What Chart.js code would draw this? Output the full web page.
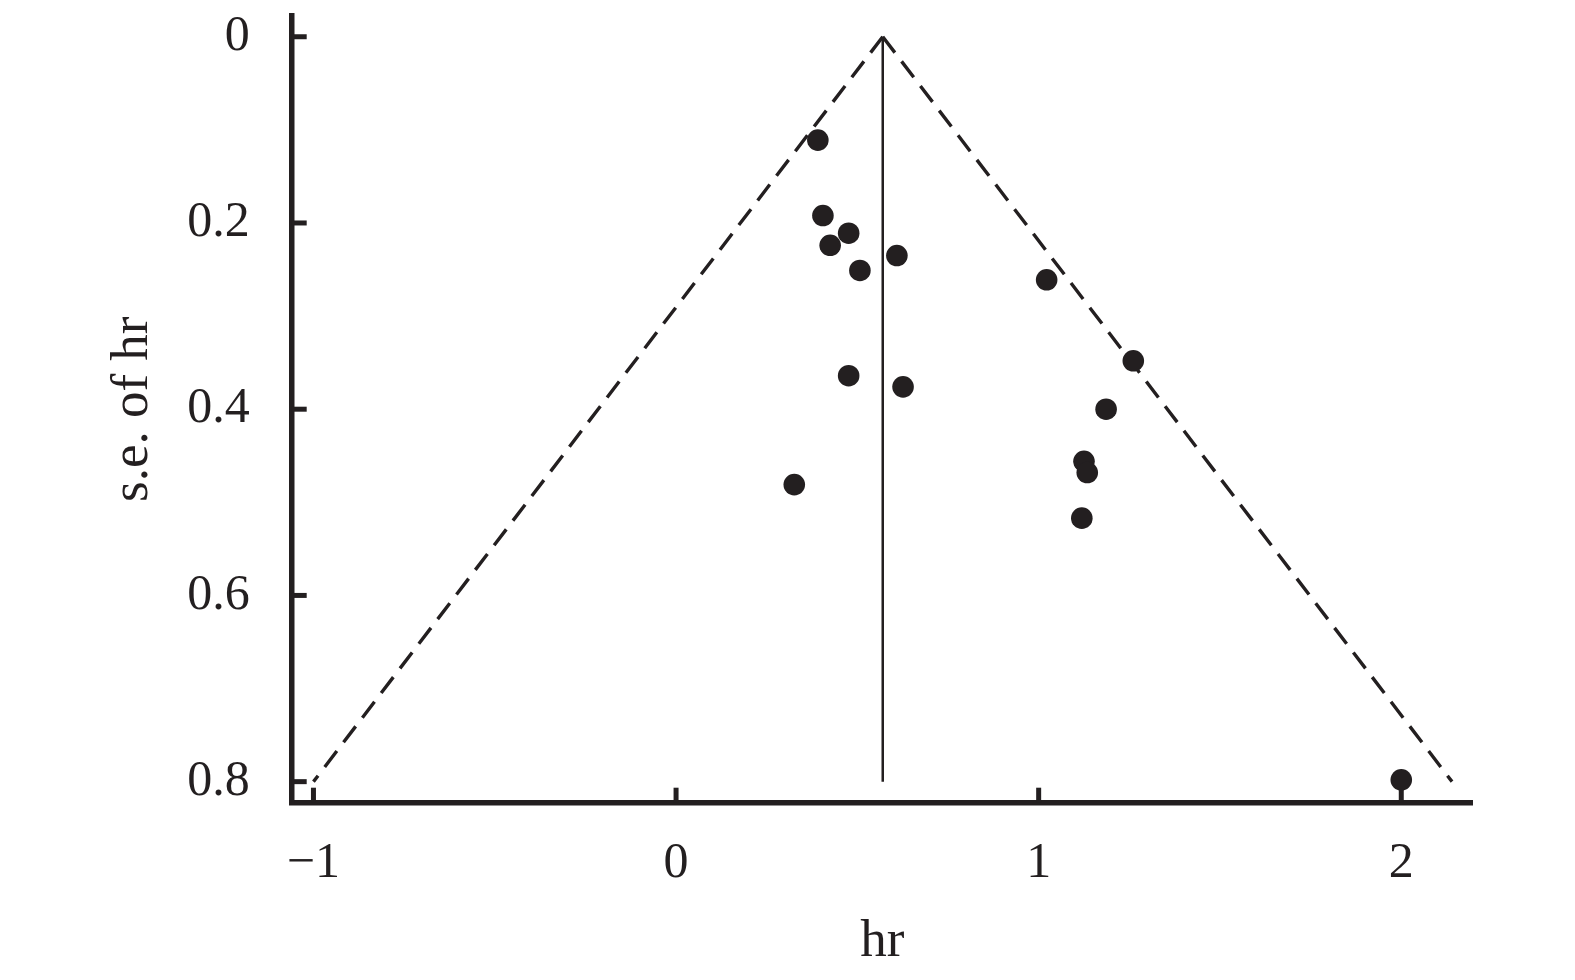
<!DOCTYPE html>
<html><head><meta charset="utf-8">
<script src="https://cdn.jsdelivr.net/npm/chart.js@4.4.1/dist/chart.umd.min.js"></script>
<style>html,body{margin:0;padding:0;background:#fff;overflow:hidden}#wrap{width:1575px;height:980px}</style>
</head><body><div id="wrap"><canvas id="c" width="1575" height="980"></canvas></div>
<script>
// Study estimates (hr) and their standard errors
const studyHr = [0.391, 0.405, 0.476, 0.425, 0.507, 0.609, 0.476, 0.626, 0.326, 1.022, 1.261, 1.186, 1.125, 1.134, 1.119, 2.000];
const studySe = [0.111, 0.192, 0.211, 0.224, 0.251, 0.235, 0.364, 0.376, 0.481, 0.261, 0.348, 0.400, 0.456, 0.468, 0.517, 0.798];
// Pooled estimate and pseudo 95% confidence limits
const pooledHr = 0.57;
const funnelTopSe = 0;
const funnelBaseSe = 0.8;
const funnelBaseHr = [-1.0, 2.14];
// Tick labels
const xTickValues = [-1, 0, 1, 2];
const yTickValues = [0, 0.2, 0.4, 0.6, 0.8];
const xTitle = 'hr';
const yTitle = 's.e. of hr';

const INK = '#231f20';
const FONT = '"Liberation Serif", "Times New Roman", serif';

const points = studyHr.map((h, i) => ({x: h, y: studySe[i]}));
const leftLimit = [{x: pooledHr, y: funnelTopSe}, {x: funnelBaseHr[0], y: funnelBaseSe}];
const rightLimit = [{x: pooledHr, y: funnelTopSe}, {x: funnelBaseHr[1], y: funnelBaseSe}];
const pooledLine = [{x: pooledHr, y: funnelTopSe}, {x: pooledHr, y: funnelBaseSe}];

const inwardTicks = {
  id: 'inwardTicks',
  beforeDatasetsDraw(chart) {
    const ctx = chart.ctx, a = chart.chartArea;
    const xs = chart.scales.x, ys = chart.scales.y;
    ctx.save();
    ctx.strokeStyle = INK;
    ctx.lineWidth = 5;
    ctx.lineCap = 'butt';
    xs.ticks.forEach(t => {
      const px = xs.getPixelForValue(t.value);
      ctx.beginPath(); ctx.moveTo(px, a.bottom); ctx.lineTo(px, a.bottom - 15); ctx.stroke();
    });
    ys.ticks.forEach(t => {
      const py = ys.getPixelForValue(t.value);
      ctx.beginPath(); ctx.moveTo(a.left, py); ctx.lineTo(a.left + 15, py); ctx.stroke();
    });
    ctx.restore();
  }
};

new Chart(document.getElementById('c'), {
  type: 'scatter',
  data: {
    datasets: [
      {data: points, pointRadius: 10.8, pointHoverRadius: 10.8, backgroundColor: INK, borderWidth: 0, clip: false},
      {type: 'line', data: pooledLine, showLine: true, pointRadius: 0, borderColor: INK, borderWidth: 2.5, fill: false, clip: false},
      {type: 'line', data: leftLimit, showLine: true, pointRadius: 0, borderColor: INK, borderWidth: 3.4, borderDash: [20, 11], borderCapStyle: 'butt', fill: false, clip: false},
      {type: 'line', data: rightLimit, showLine: true, pointRadius: 0, borderColor: INK, borderWidth: 3.4, borderDash: [20, 11], borderCapStyle: 'butt', fill: false, clip: false}
    ]
  },
  options: {
    responsive: false,
    devicePixelRatio: 1,
    animation: false,
    events: [],
    layout: {padding: {top: 15.7, right: 102.3, left: 0, bottom: 0}},
    plugins: {legend: {display: false}, tooltip: {enabled: false}},
    scales: {
      x: {
        type: 'linear',
        min: -1.06, max: 2.197,
        afterFit: s => { s.height = 177.3; s.paddingLeft = 0; s.paddingRight = 0; },
        afterBuildTicks: s => { s.ticks = xTickValues.map(v => ({value: v})); },
        grid: {display: true, drawOnChartArea: false, drawTicks: false},
        border: {display: true, color: INK, width: 5.5},
        ticks: {
          color: INK, padding: 31, font: {family: FONT, size: 50},
          callback: v => v < 0 ? '\u2212' + Math.abs(v) : String(v)
        },
        title: {display: true, text: xTitle, color: INK, font: {family: FONT, size: 53}, padding: {top: 0, bottom: 6}}
      },
      y: {
        type: 'linear',
        reverse: true,
        min: -0.0226, max: 0.8226,
        afterFit: s => { s.width = 291.7; s.paddingTop = 0; s.paddingBottom = 0; },
        afterBuildTicks: s => { s.ticks = yTickValues.map(v => ({value: v})); },
        grid: {display: true, drawOnChartArea: false, drawTicks: false},
        border: {display: true, color: INK, width: 5.5},
        ticks: {
          color: INK, padding: 42, font: {family: FONT, size: 50},
          callback: v => String(v)
        },
        title: {display: true, text: yTitle, color: INK, font: {family: FONT, size: 53}, padding: {top: 101, bottom: 0}}
      }
    }
  },
  plugins: [inwardTicks]
});
</script>
</body></html>
